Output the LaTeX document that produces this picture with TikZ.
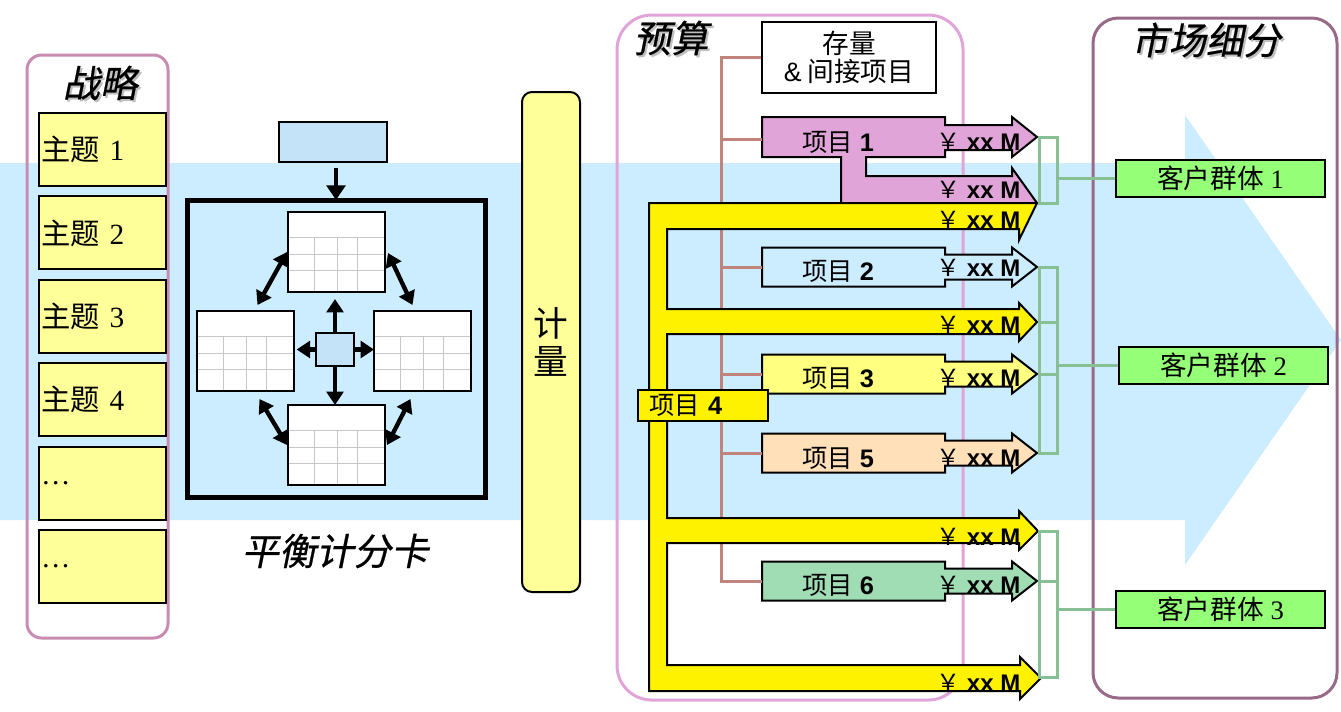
\documentclass[tikz,border=0pt]{standalone}
\usepackage{fontspec}
\setmainfont{Liberation Serif}
\setsansfont{Liberation Sans}
\newfontfamily\cjk{Noto Sans CJK SC}
\newfontfamily\cjkit[FakeSlant=0.2,FakeBold=0.6]{Noto Sans CJK SC}
\usetikzlibrary{arrows.meta,calc}

\definecolor{bandblue}{RGB}{204,236,255}
\definecolor{scblue}{RGB}{197,227,248}
\definecolor{themeyel}{RGB}{255,255,153}
\definecolor{stratrim}{RGB}{200,140,178}
\definecolor{budgrim}{RGB}{224,164,216}
\definecolor{segrim}{RGB}{152,106,136}
\definecolor{treebrown}{RGB}{192,132,124}
\definecolor{p3yel}{RGB}{255,255,128}
\definecolor{p5peach}{RGB}{255,224,184}
\definecolor{p6green}{RGB}{160,220,180}
\definecolor{brgreen}{RGB}{136,192,150}
\definecolor{seggreen}{RGB}{150,255,120}

\newcommand\yxm{{\mdseries\cjk ￥} xx M}

\tikzset{panel/.style={line width=2.25pt}}
\tikzset{paneltitle/.style={font=\cjkit\fontsize{28}{30}\selectfont}}
\tikzset{titleshadow/.style={paneltitle,text=black!25}}
\tikzset{themebox/.style={draw,line width=1.5pt,fill=themeyel,anchor=north west,minimum width=95.25pt,minimum height=54.75pt,text width=92pt,inner xsep=1pt,align=left,font=\fontsize{22}{24}\selectfont}}
\tikzset{bscbox/.style={draw,line width=1.5pt,fill=scblue}}
\tikzset{bsctab/.style={draw,line width=1.5pt,fill=white,anchor=north west,minimum width=72.75pt,minimum height=60pt,inner sep=0pt,outer sep=0pt}}
\tikzset{gridline/.style={gray!45,line width=0.75pt}}
\tikzset{bscarrow/.style={line width=3.25pt,-{Triangle[length=10pt,width=12.5pt]}}}
\tikzset{bscdouble/.style={line width=3.25pt,{Triangle[length=10pt,width=12.5pt]}-{Triangle[length=10pt,width=12.5pt]}}}
\tikzset{tree/.style={treebrown,line width=2.25pt}}
\tikzset{projlabel/.style={font=\sffamily\fontsize{19}{21}\selectfont}}
\tikzset{money/.style={anchor=west,inner sep=0pt,font=\sffamily\bfseries\fontsize{18}{20}\selectfont}}
\tikzset{bracket/.style={brgreen,line width=2.25pt}}
\tikzset{segbox/.style={draw,line width=1.5pt,fill=seggreen,minimum width=156.75pt,minimum height=27.75pt,font=\fontsize{20}{22}\selectfont}}
\tikzset{projarrow/.pic={
  \draw[pic actions,line width=1.5pt] (0,-19.5) -- (183,-19.5) -- (183,-12.5) -- (250,-12.5) -- (250,-19.5) -- (275,0) -- (250,19.5) -- (250,12.5) -- (183,12.5) -- (183,19.5) -- (0,19.5) -- cycle;
  \coordinate (-w) at (0,0);
}}

\begin{document}
\begin{tikzpicture}[x=0.75pt,y=-0.75pt]
    \useasboundingbox (0,0) rectangle (1341,711);
    % draw the big background arrow
    \fill[bandblue] (0,163) -- (1185,163) -- (1185,115) -- (1341,340) -- (1185,565) -- (1185,520) -- (0,520) -- cycle;

    % draw the strategy column
    \draw[panel,stratrim,rounded corners=11pt] (27,55) rectangle (168,638);
    \node[titleshadow] (tstrat-s) at (102,85) {战略};
    \node[paneltitle] (tstrat) at (100,83) {战略};
    \foreach \lab [count=\i] in {{\cjk 主题} 1,{\cjk 主题} 2,{\cjk 主题} 3,{\cjk 主题} 4,\ldots,\ldots}
        \node[themebox] (th\i) at (38,{112+83.4*(\i-1)}) {\lab};

    % draw the scorecard
    \node[bscbox,minimum width=81pt,minimum height=30pt] (goal) at (333,142) {};
    \node[draw,line width=3.75pt,anchor=north west,minimum width=223.5pt,minimum height=222.75pt,inner sep=0pt,outer sep=0pt] (bsc) at (187,200) {};
    \draw[line width=3.5pt,-{Triangle[length=11pt,width=14pt]},shorten <=3.75pt] (bsc.north |- goal.south) -- (bsc.north);
    \node[bsctab] (ttop) at (288,212) {};
    \node[bsctab] (tleft) at (197,311) {};
    \node[bsctab] (tright) at (374,311) {};
    \node[bsctab] (tbot) at (288,405) {};
    \foreach \t in {ttop,tleft,tright,tbot} {
        \foreach \r in {25,42,58}
            \draw[gridline] ($(\t.north west)+(1,\r)$) -- ($(\t.north east)+(-1,\r)$);
        \foreach \c in {26,49,69}
            \draw[gridline] ($(\t.north west)+(\c,25)$) -- ($(\t.south west)+(\c,-1)$);
    }
    \node[bscbox,minimum width=28.5pt,minimum height=24.75pt] (hub) at (335,349.5) {};
    \draw[bscarrow,shorten >=5.25pt] (hub.north) -- (hub.north |- ttop.south);
    \draw[bscarrow] (hub.south) -- (hub.south |- tbot.north);
    \draw[bscarrow,shorten >=2pt] (hub.west) -- (hub.west -| tleft.east);
    \draw[bscarrow] (hub.east) -- (hub.east -| tright.west);
    \draw[bscdouble] ($(tleft.north)+(12,-6)$) -- ($(ttop.west)+(-1,0)$);
    \draw[bscdouble] ($(ttop.east)+(3,1)$) -- ($(tright.north)+(-10,-6)$);
    \draw[bscdouble] ($(tleft.south)+(14,8)$) -- ($(tbot.west)+(-1,0)$);
    \draw[bscdouble] ($(tbot.east)+(2,0)$) -- ($(tright.south)+(-12,8)$);
    \node[paneltitle] (bsccap) at (335,551) {平衡计分卡};

    % measures
    \node[draw,line width=1.5pt,fill=themeyel,rounded corners=7.5pt,minimum width=43.5pt,minimum height=375pt,align=center,font=\cjk\fontsize{26}{28}\selectfont] (meas) at (551,342) {计\\量};

    % draw the budget column
    \draw[panel,budgrim,rounded corners=26pt] (617,15) rectangle (963,700);
    \node[titleshadow] (tbudg-s) at (673,40) {预算};
    \node[paneltitle] (tbudg) at (671,38) {预算};
    \node[draw,line width=1.5pt,fill=white,minimum width=130.5pt,minimum height=53.25pt,align=center,font=\cjk\fontsize{20}{21}\selectfont] (inv) at (849,57.5) {存量\\{\sffamily\&} 间接项目};

    % project arrows
    \draw[line width=1.5pt,fill=budgrim] (762,117) -- (945,117) -- (945,125) -- (1012,125) -- (1012,117) -- (1037,137) -- (1012,157) -- (1012,150) -- (945,150) -- (945,157) -- (866,157) -- (866,176) -- (1012,176) -- (1012,168) -- (1037,203) -- (841,203) -- (841,157) -- (762,157) -- cycle;
    \coordinate (p1-w) at (762,139);
    \pic[fill=bandblue] (p2) at (762,267) {projarrow};
    \pic[fill=p3yel] (p3) at (762,374) {projarrow};
    \pic[fill=p5peach] (p5) at (762,453) {projarrow};
    \pic[fill=p6green] (p6) at (762,581) {projarrow};

    % the tree
    \coordinate (trunktop) at (721,57.5);
    \coordinate (trunkbot) at (721,581);
    \draw[tree] (inv.west) -- (trunktop) -- (trunkbot) -- (p6-w);
    \foreach \p in {p1,p2,p3,p5}
        \draw[tree] (\p-w) -- (\p-w -| trunktop);

    % project 4 (the yellow comb)
    \draw[line width=1.5pt,fill=yellow] (649,203) -- (1037,203) -- (1019,240) -- (1019,229) -- (667,229) -- (667,309) -- (1019,309) -- (1019,303) -- (1037,322) -- (1019,341) -- (1019,334) -- (667,334) -- (667,518) -- (1019,518) -- (1019,511) -- (1038,531) -- (1019,550) -- (1019,543) -- (667,543) -- (667,665) -- (1020,665) -- (1020,657) -- (1041,678) -- (1020,699) -- (1020,691) -- (649,691) -- cycle;
    \node[draw,line width=1.5pt,fill=yellow,anchor=north west,minimum width=97.5pt,minimum height=23.25pt,text width=81pt,inner xsep=2pt,align=left,projlabel] (lab4) at (637,389) {{\cjk 项目} \textbf{4}};

    % labels
    \node[projlabel] (lab1) at (838,142) {{\cjk 项目} \textbf{1}};
    \node[projlabel] (lab2) at (838,271) {{\cjk 项目} \textbf{2}};
    \node[projlabel] (lab3) at (838,378) {{\cjk 项目} \textbf{3}};
    \node[projlabel] (lab5) at (838,458) {{\cjk 项目} \textbf{5}};
    \node[projlabel] (lab6) at (838,585) {{\cjk 项目} \textbf{6}};
    \foreach \y [count=\i] in {142,190,220,268,325,378,458,537,585,683}
        \node[money] (m\i) at (936,\y) {\yxm};

    % draw the market segments
    \draw[panel,segrim,rounded corners=19pt] (1093,18) rectangle (1337,698);
    \node[titleshadow] (tseg-s) at (1208,42) {市场细分};
    \node[paneltitle] (tseg) at (1206,40) {市场细分};
    \node[segbox] (seg1) at (1220.5,178) {{\cjk 客户群体} 1};
    \node[segbox] (seg2) at (1223.5,365.5) {{\cjk 客户群体} 2};
    \node[segbox] (seg3) at (1220.5,609) {{\cjk 客户群体} 3};
    \foreach \top/\bot in {137/203,267/453,531/677}
        \draw[bracket] (1039,\top) rectangle (1057,\bot);
    \foreach \y in {322,374,581}
        \draw[bracket] (1039,\y) -- (1057,\y);
    \foreach \g/\y in {1/178,2/365.5,3/609} {
        \coordinate (g\g) at (1057,\y);
        \draw[bracket] (g\g) -- (g\g -| seg\g.west);
    }
\end{tikzpicture}
\end{document}
